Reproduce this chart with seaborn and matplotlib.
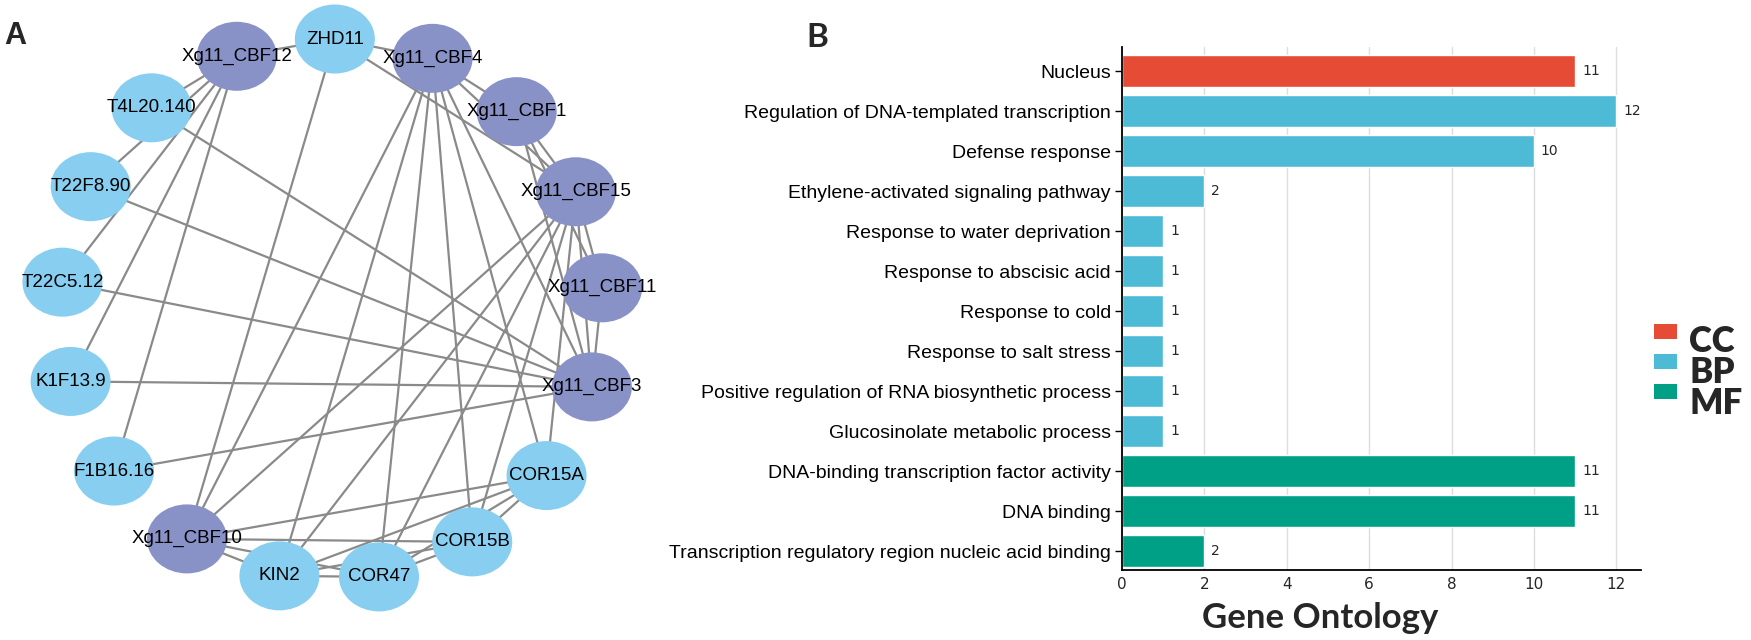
import matplotlib
matplotlib.use("Agg")
import matplotlib.pyplot as plt
from matplotlib.patches import Ellipse, Rectangle
import numpy as np
import pandas as pd
import seaborn as sns

# ---------------- Panel B data ----------------
go_terms = ["Nucleus",
            "Regulation of DNA-templated transcription",
            "Defense response",
            "Ethylene-activated signaling pathway",
            "Response to water deprivation",
            "Response to abscisic acid",
            "Response to cold",
            "Response to salt stress",
            "Positive regulation of RNA biosynthetic process",
            "Glucosinolate metabolic process",
            "DNA-binding transcription factor activity",
            "DNA binding",
            "Transcription regulatory region nucleic acid binding"]
go_counts = [11, 12, 10, 2, 1, 1, 1, 1, 1, 1, 11, 11, 2]
go_class = ["CC", "BP", "BP", "BP", "BP", "BP", "BP", "BP", "BP", "BP", "MF", "MF", "MF"]
class_order = ["CC", "BP", "MF"]
class_colors = ["#E64B35", "#4DBBD5", "#00A087"]
x_ticks = [0, 2, 4, 6, 8, 10, 12]

# ---------------- Panel A data ----------------
node_names = ["ZHD11", "Xg11_CBF4", "Xg11_CBF1", "Xg11_CBF15", "Xg11_CBF11", "Xg11_CBF3",
              "COR15A", "COR15B", "COR47", "KIN2", "Xg11_CBF10", "F1B16.16", "K1F13.9",
              "T22C5.12", "T22F8.90", "T4L20.140", "Xg11_CBF12"]
node_group = ["target", "CBF", "CBF", "CBF", "CBF", "CBF",
              "target", "target", "target", "target", "CBF", "target", "target",
              "target", "target", "target", "CBF"]
edge_src = ["ZHD11", "ZHD11", "ZHD11", "ZHD11",
            "Xg11_CBF12", "Xg11_CBF12", "Xg11_CBF12", "Xg11_CBF12", "Xg11_CBF12",
            "Xg11_CBF3", "Xg11_CBF3", "Xg11_CBF3", "Xg11_CBF3", "Xg11_CBF3",
            "Xg11_CBF4", "Xg11_CBF4", "Xg11_CBF4", "Xg11_CBF4", "Xg11_CBF4", "Xg11_CBF4", "Xg11_CBF4", "Xg11_CBF4",
            "Xg11_CBF1", "Xg11_CBF1", "Xg11_CBF1",
            "Xg11_CBF15", "Xg11_CBF15", "Xg11_CBF15", "Xg11_CBF15", "Xg11_CBF15", "Xg11_CBF15", "Xg11_CBF15",
            "Xg11_CBF11",
            "Xg11_CBF10", "Xg11_CBF10", "Xg11_CBF10", "Xg11_CBF10",
            "KIN2", "KIN2", "KIN2",
            "COR47", "COR47", "COR15B"]
edge_dst = ["Xg11_CBF12", "Xg11_CBF4", "Xg11_CBF15", "Xg11_CBF10",
            "T4L20.140", "T22F8.90", "T22C5.12", "K1F13.9", "F1B16.16",
            "T4L20.140", "T22F8.90", "T22C5.12", "K1F13.9", "F1B16.16",
            "Xg11_CBF1", "Xg11_CBF15", "Xg11_CBF3", "Xg11_CBF10", "KIN2", "COR47", "COR15B", "COR15A",
            "Xg11_CBF15", "Xg11_CBF11", "Xg11_CBF3",
            "Xg11_CBF11", "Xg11_CBF3", "Xg11_CBF10", "KIN2", "COR47", "COR15B", "COR15A",
            "Xg11_CBF3",
            "KIN2", "COR47", "COR15B", "COR15A",
            "COR47", "COR15B", "COR15A",
            "COR15B", "COR15A", "COR15A"]

# ---------------- Figure ----------------
sns.set_style("white")
plt.rcParams["font.family"] = ["Liberation Sans", "DejaVu Sans"]

W, H = 1751, 640
fig = plt.figure(figsize=(W / 100, H / 100), dpi=100)

# ---- Panel B: bar chart
ax = fig.add_axes([1122 / W, 1 - 570 / H, (1641 - 1122) / W, (570 - 47) / H])
df = pd.DataFrame({"term": go_terms, "count": go_counts, "cls": go_class})
sns.barplot(data=df, y="term", x="count", hue="cls", hue_order=class_order,
            palette=class_colors, dodge=False, width=0.8, saturation=1,
            legend=False, ax=ax, zorder=2)
ax.set_xlim(0, 12.6)
ax.set_ylim(12.475, -0.6)
ax.set_xticks(x_ticks)
ax.xaxis.grid(True, color="#DDDDDD", lw=1.0, zorder=0)
ax.yaxis.grid(False)
ax.set_axisbelow(True)
for s in ["top", "right"]:
    ax.spines[s].set_visible(False)
for s in ["left", "bottom"]:
    ax.spines[s].set_color("black")
    ax.spines[s].set_linewidth(1.3)
ax.tick_params(axis="y", length=5, width=1, pad=3, labelsize=14, colors="black", left=True)
ax.tick_params(axis="x", length=0, pad=5, labelsize=11)
for t in ax.get_xticklabels():
    t.set_fontfamily("DejaVu Sans")
ax.set_ylabel("")
ax.set_xlabel("Gene Ontology", fontsize=25, fontweight="bold", family="Lato")
ax.xaxis.set_label_coords(0.382, -0.092)
ax.xaxis.label.set_verticalalignment("center")
for c in ax.containers:
    labs = ["" if np.isnan(v) else f"{v:.0f}" for v in c.datavalues]
    ax.bar_label(c, labels=labs, padding=5, fontsize=10, family="DejaVu Sans")

# ---- overlay in pixel coordinates for panel A, legend and letters
ov = fig.add_axes([0, 0, 1, 1])
ov.set_xlim(0, W)
ov.set_ylim(H, 0)
ov.axis("off")
ov.patch.set_visible(False)

n = len(node_names)
cx, cy, R = 332, 310, 271
theta = np.deg2rad(89.4 - np.arange(n) * 360.0 / n)
pos = {nm: (cx + R * np.cos(t), cy - R * np.sin(t)) for nm, t in zip(node_names, theta)}

for a, b in zip(edge_src, edge_dst):
    (x1, y1), (x2, y2) = pos[a], pos[b]
    ov.plot([x1, x2], [y1, y2], color="#8A8A8A", lw=1.6, zorder=1, solid_capstyle="butt")

grp_color = {"CBF": "#8992C7", "target": "#87CEF0"}
for nm, g in zip(node_names, node_group):
    x, y = pos[nm]
    ov.add_patch(Ellipse((x, y), 80, 69, facecolor=grp_color[g], edgecolor="none", zorder=2))
    ov.text(x, y, nm, ha="center", va="center", fontsize=13.5, color="black", zorder=3)

# legend
leg_top = [324, 354, 384]
leg_base = [352, 383, 414]
for lab, col, yt, yb in zip(class_order, class_colors, leg_top, leg_base):
    ov.add_patch(Rectangle((1654, yt), 23, 15, facecolor=col, edgecolor="none"))
    ov.text(1689, yb, lab, ha="left", va="baseline", fontsize=25, fontweight="heavy", family="Lato")

# panel letters
ov.text(4, 44, "A", ha="left", va="baseline", fontsize=22, fontweight="bold")
ov.text(806, 47, "B", ha="left", va="baseline", fontsize=24, fontweight="bold", family="Lato")

fig.savefig("out.png", dpi=100)
